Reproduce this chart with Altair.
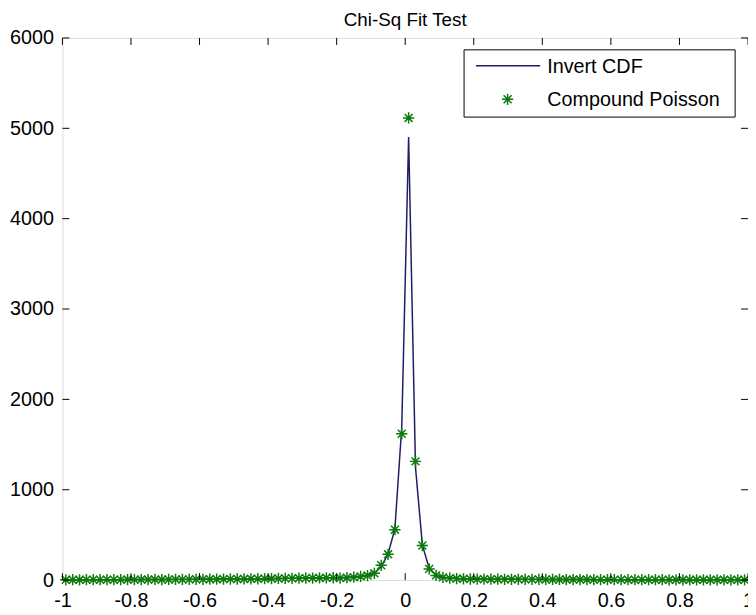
import altair as alt
import pandas as pd

# ---- data ----
x_points = [round(-0.99 + 0.02 * i, 2) for i in range(100)]

# Compound Poisson (stars), x = -0.99 ... 0.99 step 0.02
poisson_left = [3, 4, 3, 4, 5, 4, 5, 4, 5, 6, 5, 6, 6, 7, 6, 7, 8, 7, 8, 9,
                9, 10, 10, 11, 12, 12, 13, 14, 15, 16,
                17, 18, 19, 20, 21, 22, 23, 24, 25, 26,
                23, 27, 32, 40, 50, 75, 164, 285, 558, 1620]
poisson_right = [5115, 1314, 383, 124, 52, 30, 22, 17, 14, 12,
                 11, 11, 10, 10, 9, 9, 9, 8, 8, 8,
                 7, 7, 7, 6, 6, 6, 6, 5, 5, 5,
                 5, 5, 4, 4, 4, 4, 4, 4, 3, 3,
                 3, 3, 3, 3, 3, 3, 3, 3, 3, 3]

# Invert CDF (line), same grid
cdf_left = [3, 3, 4, 4, 4, 5, 5, 5, 5, 6, 6, 6, 6, 7, 7, 7, 8, 8, 8, 9,
            9, 10, 10, 11, 11, 12, 13, 13, 14, 15,
            16, 17, 18, 19, 20, 21, 22, 24, 25, 27,
            29, 32, 36, 42, 52, 78, 150, 290, 570, 1700]
cdf_right = [4905, 1250, 390, 130, 55, 32, 23, 18, 15, 13,
             12, 11, 10, 10, 9, 9, 9, 8, 8, 8,
             7, 7, 7, 7, 6, 6, 6, 6, 5, 5,
             5, 5, 5, 4, 4, 4, 4, 4, 4, 3,
             3, 3, 3, 3, 3, 3, 3, 3, 3, 3]

x_ticks = [-1, -0.8, -0.6, -0.4, -0.2, 0, 0.2, 0.4, 0.6, 0.8, 1]
y_ticks = [0, 1000, 2000, 3000, 4000, 5000, 6000]

legend_labels = ["Invert CDF", "Compound Poisson"]

df = pd.DataFrame({
    "x": x_points,
    "poisson": poisson_left + poisson_right,
    "cdf": cdf_left + cdf_right,
})
xt = pd.DataFrame({"t": x_ticks})
yt = pd.DataFrame({"t": y_ticks})

FONT = "Liberation Sans"
W, H = 693, 548
LINE_C = "#1e1e66"
STAR_C = "#0b7a0b"
STAR = "M-1,0L1,0M0,-1L0,1M-0.7,-0.7L0.7,0.7M-0.7,0.7L0.7,-0.7"

xscale = alt.Scale(domain=[-1, 1], nice=False, zero=False)
yscale = alt.Scale(domain=[0, 6000], nice=False)

xaxis = alt.Axis(values=x_ticks, labelExpr="'' + datum.value", title=None,
                 labelFontSize=20, labelFont=FONT, labelColor="black",
                 labelPadding=11, ticks=False, domain=False, grid=False,
                 labelFlush=False, labelOverlap=False)
yaxis = alt.Axis(values=y_ticks, format="d", title=None,
                 labelFontSize=20, labelFont=FONT, labelColor="black",
                 labelPadding=9, ticks=False, domain=False, grid=False,
                 labelFlush=False, labelOverlap=False)

line = alt.Chart(df).mark_line(color=LINE_C, strokeWidth=1.5).encode(
    x=alt.X("x:Q", scale=xscale, axis=xaxis),
    y=alt.Y("cdf:Q", scale=yscale, axis=yaxis),
)
stars = alt.Chart(df).mark_point(shape=STAR, filled=False, color=STAR_C,
                                 size=130, strokeWidth=1.5, opacity=1).encode(
    x=alt.X("x:Q", scale=xscale),
    y=alt.Y("poisson:Q", scale=yscale),
)

# inward ticks (MATLAB style box)
tick_bottom = alt.Chart(xt).mark_rule(color="black").encode(
    x=alt.X("t:Q", scale=xscale), y=alt.value(H), y2=alt.value(H - 7))
tick_top = alt.Chart(xt).mark_rule(color="black").encode(
    x=alt.X("t:Q", scale=xscale), y=alt.value(0), y2=alt.value(7))
tick_left = alt.Chart(yt).mark_rule(color="black").encode(
    y=alt.Y("t:Q", scale=yscale), x=alt.value(0), x2=alt.value(7))
tick_right = alt.Chart(yt).mark_rule(color="black").encode(
    y=alt.Y("t:Q", scale=yscale), x=alt.value(W), x2=alt.value(W - 7))

# manual legend
leg_box = alt.Chart(pd.DataFrame({"k": [0]})).mark_rect(
    fill="white", stroke="black", strokeWidth=1).encode(
    x=alt.value(406), x2=alt.value(680), y=alt.value(12), y2=alt.value(80))
leg_line = alt.Chart(pd.DataFrame({"k": [0]})).mark_rule(
    color=LINE_C, strokeWidth=1.5).encode(
    x=alt.value(418), x2=alt.value(483), y=alt.value(28))
leg_star = alt.Chart(pd.DataFrame({"k": [0]})).mark_point(
    shape=STAR, filled=False, color=STAR_C, size=130, strokeWidth=1.5,
    opacity=1).encode(x=alt.value(450), y=alt.value(62))
leg_text1 = alt.Chart(pd.DataFrame({"label": [legend_labels[0]]})).mark_text(
    align="left", baseline="middle", fontSize=20, font=FONT, color="black").encode(
    x=alt.value(490), y=alt.value(29), text="label:N")
leg_text2 = alt.Chart(pd.DataFrame({"label": [legend_labels[1]]})).mark_text(
    align="left", baseline="middle", fontSize=20, font=FONT, color="black").encode(
    x=alt.value(490), y=alt.value(63), text="label:N")

chart = alt.layer(
    line, stars, tick_bottom, tick_top, tick_left, tick_right,
    leg_box, leg_line, leg_star, leg_text1, leg_text2,
).resolve_scale(x="shared", y="shared").properties(
    width=W, height=H,
    title=alt.TitleParams("Chi-Sq Fit Test", fontSize=19, font=FONT,
                          fontWeight="normal", color="black", anchor="middle",
                          frame="group", offset=-2),
    padding={"left": 55, "top": 27, "right": 0, "bottom": 32},
    autosize=alt.AutoSizeParams(type="none"),
).configure_view(stroke="black", strokeWidth=1).configure(background="white")

chart.save("out.html", embed_options={"renderer": "svg", "actions": False})
